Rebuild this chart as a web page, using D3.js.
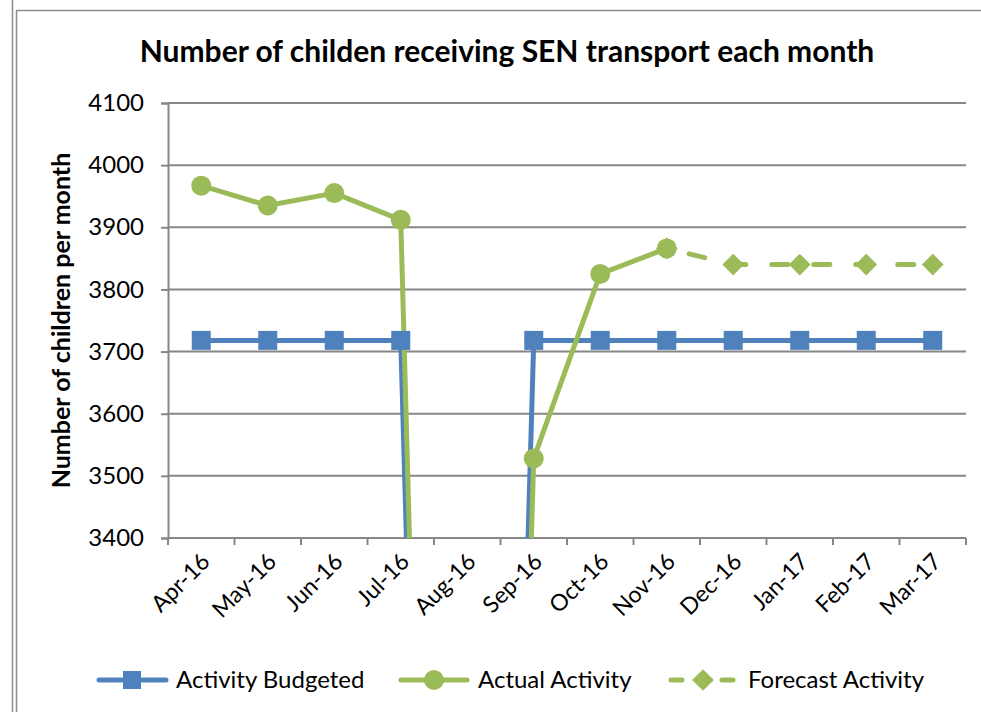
<!DOCTYPE html>
<html>
<head>
<meta charset="utf-8">
<script src="https://cdn.jsdelivr.net/npm/d3@7"></script>
<style>
  body { margin: 0; background: #fff; }
  text { font-family: Lato, "Open Sans", sans-serif; fill: #000; }
</style>
</head>
<body>
<div id="chart-area"></div>
<script>
// data
var months = ["Apr-16", "May-16", "Jun-16", "Jul-16", "Aug-16", "Sep-16",
              "Oct-16", "Nov-16", "Dec-16", "Jan-17", "Feb-17", "Mar-17"];
var budgeted = [3718, 3718, 3718, 3718, 0, 3718, 3718, 3718, 3718, 3718, 3718, 3718];
var actual   = [3967, 3935, 3955, 3912, 0, 3528, 3825, 3866, null, null, null, null];
var forecast = [null, null, null, null, null, null, null, 3866, 3840, 3840, 3840, 3840];
var yTicks = [3400, 3500, 3600, 3700, 3800, 3900, 4000, 4100];

var blue = "#4F81BD";
var green = "#9BBB59";
var grid = "#868686";

var svg = d3.select("#chart-area")
  .append("svg")
  .attr("width", 981)
  .attr("height", 712)
  .style("display", "block");

// outer frame
svg.append("line").attr("x1", 12.5).attr("x2", 12.5).attr("y1", 0).attr("y2", 712)
  .attr("stroke", "#8c8c8c").attr("stroke-width", 1.5);
svg.append("line").attr("x1", 16.5).attr("x2", 16.5).attr("y1", 10).attr("y2", 712)
  .attr("stroke", "#8c8c8c").attr("stroke-width", 1.5);
svg.append("line").attr("x1", 16).attr("x2", 981).attr("y1", 10.5).attr("y2", 10.5)
  .attr("stroke", "#8c8c8c").attr("stroke-width", 1.5);

var plotLeft = 168, plotRight = 966, plotTop = 103, plotBottom = 538;

var x = d3.scaleBand()
  .domain(months)
  .range([plotLeft, plotRight]);
var cx = d => x(d) + x.bandwidth() / 2;

var y = d3.scaleLinear()
  .domain([3400, 4100])
  .range([plotBottom, plotTop]);

// title
svg.append("text")
  .attr("x", 507)
  .attr("y", 62)
  .attr("text-anchor", "middle")
  .attr("font-size", "30px")
  .attr("font-weight", "bold")
  .text("Number of childen receiving SEN transport each month");

// gridlines
svg.append("g")
  .selectAll("line")
  .data(yTicks)
  .enter()
  .append("line")
  .attr("x1", plotLeft)
  .attr("x2", plotRight)
  .attr("y1", d => y(d))
  .attr("y2", d => y(d))
  .attr("stroke", grid)
  .attr("stroke-width", 2);

// y axis
var yAxis = svg.append("g")
  .attr("transform", "translate(" + plotLeft + ",0)")
  .call(d3.axisLeft(y).tickValues(yTicks).tickSize(7).tickPadding(17).tickFormat(d3.format("d")));
yAxis.selectAll("text").attr("font-size", "24px").style("font-family", "Lato, sans-serif");
yAxis.selectAll(".domain, .tick line").attr("stroke", grid).attr("stroke-width", 2);

// x axis: labels at category centres, tick marks between categories
var xAxis = svg.append("g")
  .attr("transform", "translate(0," + plotBottom + ")")
  .call(d3.axisBottom(x).tickSize(0).tickPadding(0));
xAxis.select(".domain").remove();
xAxis.selectAll("text")
  .attr("font-size", "23px")
  .style("font-family", "Lato, sans-serif")
  .attr("text-anchor", "end")
  .attr("x", 10)
  .attr("y", 25)
  .attr("dy", null)
  .attr("transform", "rotate(-45 10 25)");
svg.append("g")
  .selectAll("line")
  .data(months.concat(["end"]))
  .enter()
  .append("line")
  .attr("x1", (d, i) => i < months.length ? x(d) : plotRight)
  .attr("x2", (d, i) => i < months.length ? x(d) : plotRight)
  .attr("y1", plotBottom)
  .attr("y2", plotBottom + 7)
  .attr("stroke", grid)
  .attr("stroke-width", 2);

// y axis label
svg.append("text")
  .attr("transform", "translate(70," + ((plotTop + plotBottom) / 2) + ") rotate(-90)")
  .attr("text-anchor", "middle")
  .attr("font-size", "25px")
  .attr("font-weight", "bold")
  .text("Number of children per month");

// clip so lines dropping to zero stop at the axis
svg.append("clipPath").attr("id", "plot-clip")
  .append("rect")
  .attr("x", 0).attr("y", 0)
  .attr("width", 981).attr("height", plotBottom);

var line = d3.line()
  .defined(d => d.v !== null)
  .x(d => cx(d.m))
  .y(d => y(d.v));

var pts = arr => arr.map((v, i) => ({ m: months[i], v: v }));

var lines = svg.append("g").attr("clip-path", "url(#plot-clip)");

lines.append("path")
  .datum(pts(budgeted))
  .attr("d", line)
  .attr("fill", "none")
  .attr("stroke", blue)
  .attr("stroke-width", 5)
  .attr("stroke-linejoin", "round");

lines.append("path")
  .datum(pts(forecast))
  .attr("d", line)
  .attr("fill", "none")
  .attr("stroke", green)
  .attr("stroke-width", 5)
  .attr("stroke-linecap", "round")
  .attr("stroke-dasharray", "16,26")
  .attr("stroke-dashoffset", 19);

lines.append("path")
  .datum(pts(actual))
  .attr("d", line)
  .attr("fill", "none")
  .attr("stroke", green)
  .attr("stroke-width", 5)
  .attr("stroke-linejoin", "round");

// markers
var inPlot = d => d.v !== null && d.v >= 3400;

svg.append("g")
  .selectAll("rect")
  .data(pts(budgeted).filter(inPlot))
  .enter()
  .append("rect")
  .attr("x", d => cx(d.m) - 9.5)
  .attr("y", d => y(d.v) - 9.5)
  .attr("width", 19)
  .attr("height", 19)
  .attr("fill", blue);

var diamond = d3.symbol().type(d3.symbolDiamond2).size(300);
svg.append("g")
  .selectAll("path")
  .data(pts(forecast).filter(inPlot))
  .enter()
  .append("path")
  .attr("d", diamond)
  .attr("transform", d => "translate(" + cx(d.m) + "," + y(d.v) + ")")
  .attr("fill", green);

svg.append("g")
  .selectAll("circle")
  .data(pts(actual).filter(inPlot))
  .enter()
  .append("circle")
  .attr("cx", d => cx(d.m))
  .attr("cy", d => y(d.v))
  .attr("r", 10)
  .attr("fill", green);

// legend
var legendY = 680;
var leg = svg.append("g");

leg.append("line").attr("x1", 99).attr("x2", 166).attr("y1", legendY).attr("y2", legendY)
  .attr("stroke", blue).attr("stroke-width", 5).attr("stroke-linecap", "round");
leg.append("rect").attr("x", 123).attr("y", legendY - 9).attr("width", 18).attr("height", 18)
  .attr("fill", blue);
leg.append("text").attr("x", 176).attr("y", legendY + 8).attr("font-size", "24px")
  .text("Activity Budgeted");

leg.append("line").attr("x1", 401).attr("x2", 467).attr("y1", legendY).attr("y2", legendY)
  .attr("stroke", green).attr("stroke-width", 5).attr("stroke-linecap", "round");
leg.append("circle").attr("cx", 434).attr("cy", legendY).attr("r", 10).attr("fill", green);
leg.append("text").attr("x", 478).attr("y", legendY + 8).attr("font-size", "24px")
  .text("Actual Activity");

leg.append("line").attr("x1", 671).attr("x2", 682).attr("y1", legendY).attr("y2", legendY)
  .attr("stroke", green).attr("stroke-width", 5).attr("stroke-linecap", "round");
leg.append("line").attr("x1", 722).attr("x2", 733).attr("y1", legendY).attr("y2", legendY)
  .attr("stroke", green).attr("stroke-width", 5).attr("stroke-linecap", "round");
leg.append("path").attr("d", diamond)
  .attr("transform", "translate(703," + legendY + ")")
  .attr("fill", green);
leg.append("text").attr("x", 748).attr("y", legendY + 8).attr("font-size", "24px")
  .text("Forecast Activity");
</script>
</body>
</html>
